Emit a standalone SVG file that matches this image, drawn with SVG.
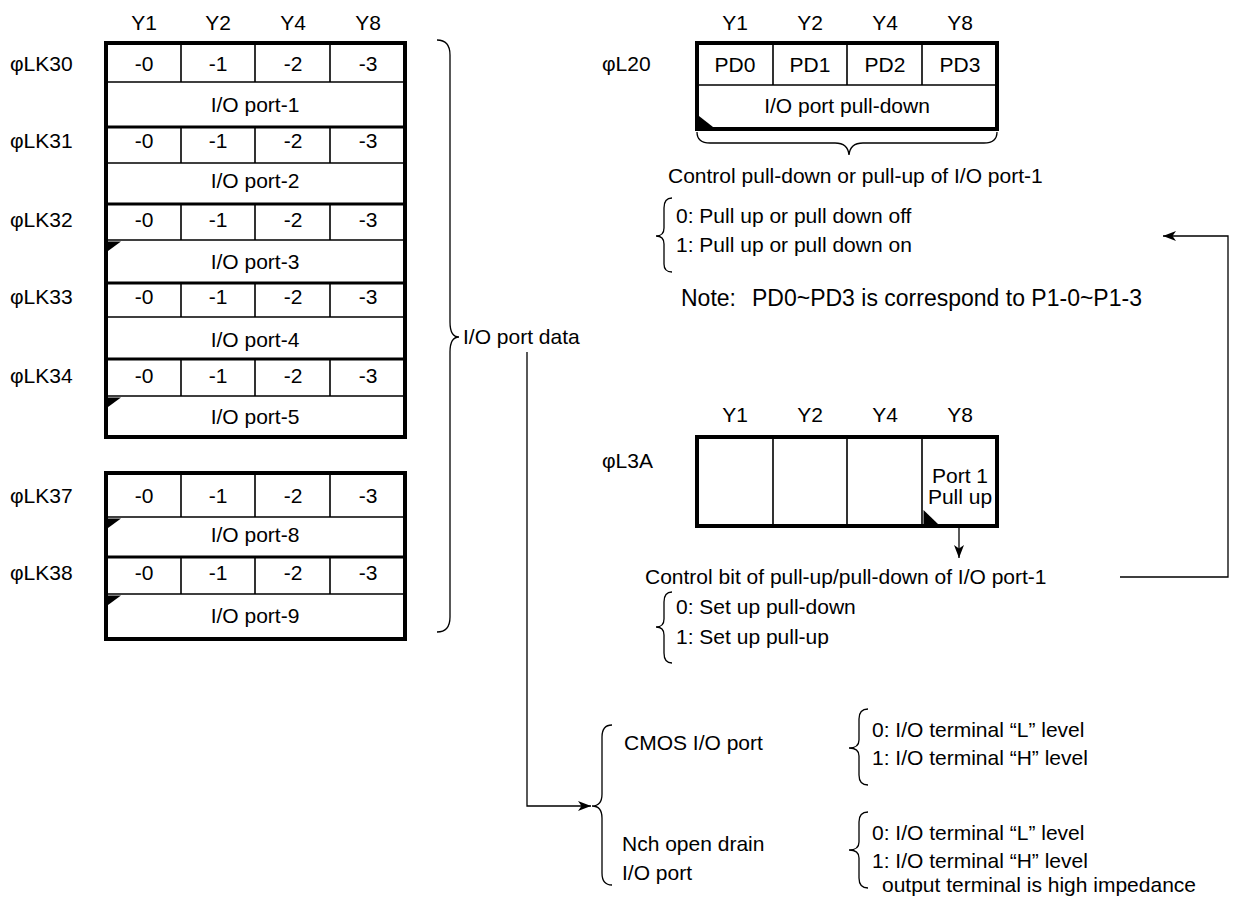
<svg xmlns="http://www.w3.org/2000/svg" width="1244" height="902" viewBox="0 0 1244 902">
<style>
text{font-family:"Liberation Sans",Arial,sans-serif;font-size:21px;fill:#000}
.c{text-anchor:middle}
.box{fill:#fff;stroke:#000;stroke-width:4}
.thick{stroke:#000;stroke-width:3;fill:none}
.thin{stroke:#000;stroke-width:1.6;fill:none}
.br{stroke:#000;stroke-width:1.3;fill:none}
.con{stroke:#000;stroke-width:1.3;fill:none}
.tri{fill:#000}
</style>
<defs>
<marker id="ah" markerUnits="userSpaceOnUse" markerWidth="13" markerHeight="10" refX="13" refY="5" orient="auto">
<path d="M0,0 L13,5 L0,10 L3.5,5 z" fill="#000"/>
</marker>
</defs>
<rect width="1244" height="902" fill="#fff"/>

<g id="left-headers">
<text class="c" x="144" y="30">Y1</text>
<text class="c" x="218" y="30">Y2</text>
<text class="c" x="293" y="30">Y4</text>
<text class="c" x="368" y="30">Y8</text>
</g>

<g id="block1">
<rect class="box" x="106" y="43" width="299" height="394"/>
<path class="thick" d="M106,127H405M106,204H405M106,283H405M106,359H405"/>
<path class="thin" d="M106,82H405M106,163H405M106,240H405M106,317H405M106,396H405"/>
<path class="thin" d="M181,43V82M255,43V82M330,43V82M181,127V163M255,127V163M330,127V163M181,204V240M255,204V240M330,204V240M181,283V317M255,283V317M330,283V317M181,359V396M255,359V396M330,359V396"/>
<polygon class="tri" points="108,241.5 121,241.5 108,251"/>
<polygon class="tri" points="108,397.5 121,397.5 108,407"/>
</g>

<g id="reg-LK30">
<text x="10" y="71">φLK30</text>
<text class="c" x="144" y="71">-0</text><text class="c" x="218" y="71">-1</text><text class="c" x="293" y="71">-2</text><text class="c" x="368" y="71">-3</text>
<text class="c" x="255" y="112">I/O port-1</text>
</g>
<g id="reg-LK31">
<text x="10" y="148">φLK31</text>
<text class="c" x="144" y="148">-0</text><text class="c" x="218" y="148">-1</text><text class="c" x="293" y="148">-2</text><text class="c" x="368" y="148">-3</text>
<text class="c" x="255" y="188">I/O port-2</text>
</g>
<g id="reg-LK32">
<text x="10" y="227">φLK32</text>
<text class="c" x="144" y="227">-0</text><text class="c" x="218" y="227">-1</text><text class="c" x="293" y="227">-2</text><text class="c" x="368" y="227">-3</text>
<text class="c" x="255" y="269">I/O port-3</text>
</g>
<g id="reg-LK33">
<text x="10" y="304">φLK33</text>
<text class="c" x="144" y="304">-0</text><text class="c" x="218" y="304">-1</text><text class="c" x="293" y="304">-2</text><text class="c" x="368" y="304">-3</text>
<text class="c" x="255" y="347">I/O port-4</text>
</g>
<g id="reg-LK34">
<text x="10" y="383">φLK34</text>
<text class="c" x="144" y="383">-0</text><text class="c" x="218" y="383">-1</text><text class="c" x="293" y="383">-2</text><text class="c" x="368" y="383">-3</text>
<text class="c" x="255" y="424">I/O port-5</text>
</g>

<g id="block2">
<rect class="box" x="106" y="473" width="299" height="166"/>
<path class="thick" d="M106,557H405"/>
<path class="thin" d="M106,517H405M106,594H405"/>
<path class="thin" d="M181,473V517M255,473V517M330,473V517M181,557V594M255,557V594M330,557V594"/>
<polygon class="tri" points="108,518.5 121,518.5 108,528"/>
<polygon class="tri" points="108,595.5 121,595.5 108,605"/>
</g>
<g id="reg-LK37">
<text x="10" y="503">φLK37</text>
<text class="c" x="144" y="503">-0</text><text class="c" x="218" y="503">-1</text><text class="c" x="293" y="503">-2</text><text class="c" x="368" y="503">-3</text>
<text class="c" x="255" y="542">I/O port-8</text>
</g>
<g id="reg-LK38">
<text x="10" y="580">φLK38</text>
<text class="c" x="144" y="580">-0</text><text class="c" x="218" y="580">-1</text><text class="c" x="293" y="580">-2</text><text class="c" x="368" y="580">-3</text>
<text class="c" x="255" y="623">I/O port-9</text>
</g>

<g id="io-port-data">
<path class="br" d="M437,40 Q450,40 450,55 L450,322 Q450,337 459,337 Q450,337 450,352 L450,617 Q450,632 437,632"/>
<text x="463" y="344">I/O port data</text>
</g>

<g id="reg-L20">
<text class="c" x="735" y="30">Y1</text>
<text class="c" x="810" y="30">Y2</text>
<text class="c" x="885" y="30">Y4</text>
<text class="c" x="960" y="30">Y8</text>
<text x="602" y="71">φL20</text>
<rect class="box" x="697" y="43" width="300" height="86"/>
<path class="thin" d="M697,85H997M773,43V85M847,43V85M922,43V85"/>
<polygon class="tri" points="699,116 699,127 713,127"/>
<text class="c" x="735" y="72">PD0</text>
<text class="c" x="810" y="72">PD1</text>
<text class="c" x="885" y="72">PD2</text>
<text class="c" x="960" y="72">PD3</text>
<text class="c" x="847" y="113">I/O port pull-down</text>
<path class="br" d="M697,132 Q697,143 710,143 L835,143 Q848,143 849,155 Q850,143 863,143 L984,143 Q997,143 997,132"/>
</g>

<g id="l20-desc">
<text x="668" y="183">Control pull-down or pull-up of I/O port-1</text>
<path class="br" d="M672,198 Q664,198 664,208 L664,228 Q664,236 656,236 Q664,236 664,244 L664,264 Q664,272 672,272"/>
<text x="676" y="223">0: Pull up or pull down off</text>
<text x="676" y="252">1: Pull up or pull down on</text>
<text x="681" y="306" style="font-size:23px">Note:<tspan x="752">PD0~PD3 is correspond to P1-0~P1-3</tspan></text>
</g>

<g id="reg-L3A">
<text class="c" x="735" y="422">Y1</text>
<text class="c" x="810" y="422">Y2</text>
<text class="c" x="885" y="422">Y4</text>
<text class="c" x="960" y="422">Y8</text>
<text x="602" y="468">φL3A</text>
<rect class="box" x="697" y="437" width="300" height="89"/>
<path class="thin" d="M773,437V526M847,437V526M922,437V526"/>
<polygon class="tri" points="923.5,510 923.5,524 938,524"/>
<text class="c" x="960" y="483">Port 1</text>
<text class="c" x="960" y="504">Pull up</text>
</g>

<g id="l3a-desc">
<text x="645" y="584">Control bit of pull-up/pull-down of I/O port-1</text>
<path class="br" d="M672,592 Q664,592 664,602 L664,619 Q664,627 656,627 Q664,627 664,635 L664,653 Q664,663 672,663"/>
<text x="676" y="614">0: Set up pull-down</text>
<text x="676" y="644">1: Set up pull-up</text>
</g>

<g id="port-types">
<path class="br" d="M612,725 Q602,725 602,737 L602,794 Q602,806 592,806 Q602,806 602,818 L602,873 Q602,885 612,885"/>
<text x="624" y="750">CMOS I/O port</text>
<text x="622" y="851">Nch open drain</text>
<text x="622" y="880">I/O port</text>
</g>

<g id="cmos-levels">
<path class="br" d="M868,709 Q859,709 859,719 L859,740 Q859,748 849,748 Q859,748 859,756 L859,775 Q859,785 868,785"/>
<text x="872" y="737">0: I/O terminal “L” level</text>
<text x="872" y="765">1: I/O terminal “H” level</text>
</g>

<g id="nch-levels">
<path class="br" d="M868,812 Q859,812 859,822 L859,842 Q859,850 849,850 Q859,850 859,858 L859,878 Q859,888 868,888"/>
<text x="872" y="840">0: I/O terminal “L” level</text>
<text x="872" y="868">1: I/O terminal “H” level</text>
<text x="882" y="892">output terminal is high impedance</text>
</g>

<g id="connectors">
<path class="con" d="M527,352 V806 H591" marker-end="url(#ah)"/>
<path class="con" d="M959,527 V558" marker-end="url(#ah)"/>
<path class="con" d="M1120,577 H1228 V236 H1163" marker-end="url(#ah)"/>
</g>
</svg>
